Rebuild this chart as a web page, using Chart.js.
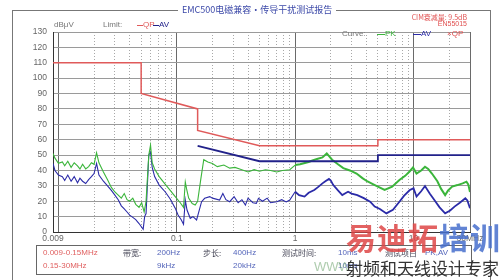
<!DOCTYPE html>
<html><head><meta charset="utf-8">
<script src="https://cdn.jsdelivr.net/npm/chart.js@4"></script>
<style>
html,body{margin:0;padding:0;background:#fff;}
#wrap{position:relative;width:500px;height:280px;overflow:hidden;background:#fff;}
#c{position:absolute;left:0;top:0;}
.t{position:absolute;white-space:nowrap;line-height:10px;font-family:"Liberation Sans","DejaVu Sans",sans-serif;font-size:8px;color:#777;}
.cjk{font-family:"Noto Sans CJK SC",sans-serif;}
.ln{position:absolute;height:0;border-top:1px solid;}
</style></head>
<body>
<div id="wrap">
  <div style="position:absolute;left:12px;top:10px;width:477px;height:300px;border:1px solid #777;"></div>
  <canvas id="c" width="500" height="280"></canvas>
  <div class="t cjk" style="left:178px;top:4px;line-height:12px;font-size:9px;color:#3b48a8;background:#fff;padding:0 4px;">EMC500电磁兼容・传导干扰测试报告</div>

  <div class="t" style="left:54px;top:20px;">dBμV</div>
  <div class="t" style="left:103px;top:20px;">Limit:</div>
  <div class="ln" style="left:137px;top:25px;width:6px;color:#e05a5a;"></div>
  <div class="t" style="left:143px;top:20px;color:#e05a5a;">QP</div>
  <div class="ln" style="left:153px;top:25px;width:6px;color:#22228a;"></div>
  <div class="t" style="left:159px;top:20px;color:#22228a;">AV</div>

  <div class="t cjk" style="right:33px;top:12px;font-size:7px;color:#e05050;">CIM衰减量: 9.5dB</div>
  <div class="t" style="right:33px;top:19px;font-size:7px;color:#e05050;">EN55015</div>

  <div class="t" style="left:342px;top:29px;">Curve:</div>
  <div class="ln" style="left:377px;top:34px;width:8px;color:#3bb53b;"></div>
  <div class="t" style="left:385px;top:29px;color:#3bb53b;">PK</div>
  <div class="ln" style="left:413px;top:34px;width:8px;color:#2b2ba8;"></div>
  <div class="t" style="left:421px;top:29px;color:#2b2ba8;">AV</div>
  <div class="t" style="left:447px;top:29px;color:#e05050;">×QP</div>

  <div style="position:absolute;left:36px;top:245px;width:434px;height:28px;border:1px solid #666;"></div>
  <div class="t" style="left:43px;top:248px;color:#e06060;">0.009-0.15MHz</div>
  <div class="t" style="left:43px;top:261px;color:#e06060;">0.15-30MHz</div>
  <div class="t cjk" style="left:123px;top:248px;color:#445;">带宽:</div>
  <div class="t" style="left:157px;top:248px;color:#5566bb;">200Hz</div>
  <div class="t" style="left:157px;top:261px;color:#5566bb;">9kHz</div>
  <div class="t cjk" style="left:203px;top:248px;color:#445;">步长:</div>
  <div class="t" style="left:233px;top:248px;color:#5566bb;">400Hz</div>
  <div class="t" style="left:233px;top:261px;color:#5566bb;">20kHz</div>
  <div class="t cjk" style="left:282px;top:248px;color:#445;">测试时间:</div>
  <div class="t" style="left:338px;top:248px;color:#5566bb;">10ms</div>
  <div class="t" style="left:338px;top:261px;color:#5566bb;">10ms</div>
  <div class="t cjk" style="left:385px;top:248px;color:#445;">测试项目</div>
  <div class="t" style="left:425px;top:248px;color:#5566bb;">PK,AV</div>

  <div class="t cjk" style="left:346px;top:220px;line-height:32px;font-size:30px;font-weight:bold;color:rgba(222,70,70,0.85);letter-spacing:1px;">易迪拓<span style="color:rgba(70,110,205,0.85);">培训</span></div>
  <div class="t" style="left:314px;top:259px;line-height:15px;font-size:13px;color:rgba(120,170,120,0.6);">WWW</div>
  <div class="t cjk" style="left:346px;top:258px;line-height:20px;font-size:17px;color:#333;">射频和天线设计专家</div>
</div>
<script>
const pkFreq = [0.009,0.00935,0.01,0.0108,0.0113,0.012,0.0128,0.0136,0.0145,0.0152,0.016,0.017,0.018,0.019,0.02,0.021,0.022,0.024,0.026,0.028,0.03,0.032,0.034,0.036,0.038,0.04,0.0425,0.045,0.048,0.0505,0.053,0.055,0.058,0.06,0.062,0.065,0.071,0.08,0.088,0.097,0.107,0.114,0.118,0.121,0.126,0.135,0.143,0.15,0.16,0.169,0.183,0.2,0.22,0.25,0.28,0.31,0.34,0.4,0.45,0.5,0.56,0.62,0.7,0.78,0.9,1.0,1.1,1.3,1.4,1.53,1.7,1.85,1.95,2.05,2.3,2.55,2.9,3.3,3.7,4.05,4.45,5.0,5.7,6.6,7.6,8.5,9.3,9.9,10.6,11.6,12.5,13.3,14.3,15.9,17.1,18.5,19.6,21.2,23.5,26,28,29,30];
const pkVal = [51,48,44.6,45.5,43,46,42,45,43,41,44,41,42.5,45,44,51.5,45,39,34,29,26,24,22,25,21,20,22,18,16,19,13,20,50,56.5,45,41,36,31,27,23,19,16,32.5,28,22,18.5,17.5,20,35,47,45.5,44.5,42.5,43.5,41.5,42,41,39,40.5,39.5,40.5,40,39,40,40.5,43.5,44,45.5,46.5,47.5,48.5,51,49,47,44,41.5,40,38,35,33,31.5,29.5,27.3,29.5,33.8,36.5,39.5,42,38,40,42.4,41,38,33,28,24,27,29.5,30.5,31.6,32.7,31,26];

const avFreq = [0.009,0.00935,0.01,0.0108,0.0113,0.012,0.0128,0.0136,0.0145,0.0152,0.016,0.017,0.018,0.019,0.02,0.021,0.022,0.024,0.026,0.028,0.03,0.032,0.034,0.036,0.038,0.04,0.0425,0.045,0.048,0.052,0.0535,0.055,0.058,0.06,0.062,0.065,0.071,0.08,0.088,0.097,0.1025,0.109,0.114,0.118,0.122,0.13,0.137,0.147,0.162,0.172,0.19,0.2,0.23,0.245,0.26,0.28,0.305,0.33,0.355,0.38,0.4,0.44,0.47,0.49,0.53,0.58,0.62,0.7,0.77,0.84,0.9,1.0,1.08,1.2,1.3,1.45,1.55,1.7,1.8,1.93,2.0,2.1,2.3,2.5,2.7,2.8,3.0,3.35,3.8,4.3,4.7,5.2,5.9,6.7,7.6,8.3,9.3,10,10.6,11.6,12.5,13.7,15,16.6,18.5,20.4,22.2,24.6,27.4,28.5,30];
const avVal = [44.6,40,37,36,33.5,37,33,36,32,35,33,31.5,34,36,38,44.6,37,33,30,27,24,21,17,15,13,11,9.5,8,5.5,1.8,10,12,50,52,42,36,30.5,26,21.5,15.5,11,8,5,20.8,14.3,8.9,10,7.8,19.7,21.9,23,22,20.8,25,21,19.7,23,19,21,17.5,22,19,18.6,21.9,20,22,19,19.7,21,19.5,20.8,26.2,24,23,25.5,27.3,29,31.6,33,34.5,33.5,30.5,27,24,25.5,26.2,25,24,22,19.7,16.5,15,12.1,14.5,19.7,23.5,27.3,28.4,23,26.5,29.9,25,20.8,16,12.1,14,16.5,19,21.9,20.5,15.4];

const qpLimitFreq = [0.009,0.05,0.05,0.15,0.15,0.5,5,5,30];
const qpLimitVal = [110,110,90,80,66,56,56,60,60];
const avLimitFreq = [0.15,0.5,5,5,30];
const avLimitVal = [56,46,46,50,50];

const xTickValues = [0.009,0.01,0.1,1,10,30];
const xTickLabels = ['0.009','','0.1','1','10','30MHz'];
const xMinorTicks = [0.02,0.03,0.04,0.05,0.06,0.07,0.08,0.09,0.2,0.3,0.4,0.5,0.6,0.7,0.8,0.9,2,3,4,5,6,7,8,9,20];
const yMin = 0, yMax = 130, yStep = 10;

const pts = (xs, ys) => xs.map((x, i) => ({x: x, y: ys[i]}));
const lineDs = (label, xs, ys, color, w, wHi) => ({
  label: label, data: pts(xs, ys), showLine: true, borderColor: color,
  backgroundColor: color, borderWidth: w, pointRadius: 0, tension: 0, fill: false,
  segment: wHi ? { borderWidth: ctx => (ctx.p0.parsed.x >= 1 ? wHi : w) } : undefined
});

new Chart(document.getElementById('c'), {
  type: 'scatter',
  data: {
    datasets: [
      lineDs('QP Limit', qpLimitFreq, qpLimitVal, '#e05a5a', 1.5),
      lineDs('AV Limit', avLimitFreq, avLimitVal, '#22228a', 1.8),
      lineDs('PK', pkFreq, pkVal, '#3bb53b', 1.1, 2),
      lineDs('AV', avFreq, avVal, '#2b2ba8', 1.1, 1.8)
    ]
  },
  options: {
    responsive: false,
    animation: false,
    devicePixelRatio: 1,
    layout: { padding: { top: 32, right: 30, left: 0, bottom: 0 } },
    plugins: { legend: { display: false }, tooltip: { enabled: false } },
    scales: {
      x: {
        type: 'logarithmic', position: 'bottom', min: 0.009, max: 30,
        afterBuildTicks: s => { s.ticks = xTickValues.map(v => ({value: v})); },
        afterFit: s => { s.height = 48; },
        grid: { color: '#6a6a6a', lineWidth: 1, drawTicks: false },
        border: { display: true, color: '#333', width: 1 },
        ticks: {
          autoSkip: false, maxRotation: 0, minRotation: 0, padding: 2,
          color: '#666', font: { family: 'Liberation Sans', size: 8.5 },
          callback: (v, i) => xTickLabels[i]
        }
      },
      xm: {
        type: 'logarithmic', position: 'top', min: 0.009, max: 30,
        afterBuildTicks: s => { s.ticks = xMinorTicks.map(v => ({value: v})); },
        afterFit: s => { s.height = 0; },
        grid: { color: '#a8a8a8', lineWidth: 1, drawTicks: false },
        border: { display: false, dash: [1, 2] },
        ticks: { display: false }
      },
      y: {
        type: 'linear', min: yMin, max: yMax,
        afterFit: s => { s.width = 53; },
        grid: { color: '#9a9a9a', lineWidth: 1, drawTicks: false },
        border: { display: true, color: '#333', width: 1 },
        ticks: { stepSize: yStep, padding: 6, color: '#666', font: { family: 'Liberation Sans', size: 8.5 } }
      }
    }
  }
});
</script>
</body></html>
